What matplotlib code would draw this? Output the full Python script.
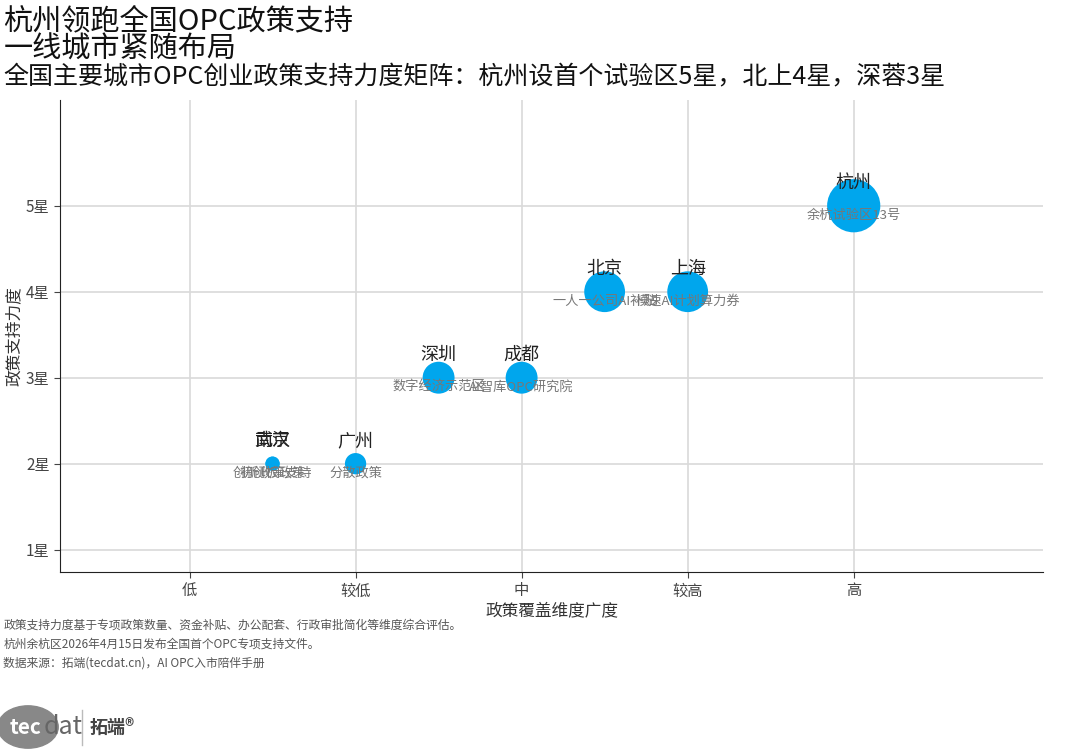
import matplotlib
matplotlib.use("Agg")
import matplotlib.pyplot as plt

plt.rcParams['font.family'] = ['Noto Sans CJK SC', 'DejaVu Sans']

cities = ["武汉", "南京", "广州", "深圳", "成都", "北京", "上海", "杭州"]
coverage = [0.5, 0.5, 1.0, 1.5, 2.0, 2.5, 3.0, 4.0]
stars = [2, 2, 2, 3, 3, 4, 4, 5]
marker_r = [8, 8, 12, 18, 18, 23, 23, 30]
notes = ["初创板政策", "创新政策支持", "分散政策", "数字经济示范区", "AI智库OPC研究院",
         "一人一公司AI补贴", "模速AI计划算力券", "余杭试验区13号"]
xticklabels = ["低", "较低", "中", "较高", "高"]
yticklabels = ["1星", "2星", "3星", "4星", "5星"]

fig = plt.figure(figsize=(10.8, 7.56), dpi=100)
ax = fig.add_axes([60/1080, 1-572/756, (1043-60)/1080, (572-100)/756])
sizes = [(r*72/100)**2*3.14159 for r in marker_r]
ax.scatter(coverage, stars, s=sizes, color="#00A6ED", zorder=3, edgecolors="none")
for x, y, c, n, r in zip(coverage, stars, cities, notes, marker_r):
    ax.annotate(c, (x, y), xytext=(0, 10), textcoords="offset points", ha="center", va="bottom",
                fontsize=13, color="#222222", zorder=4)
    ax.annotate(n, (x, y), xytext=(0, -7), textcoords="offset points", ha="center", va="center",
                fontsize=9.5, color="#777777", zorder=4)
ax.set_xlim(-0.78, 5.14)
ax.set_ylim(0.74, 6.23)
ax.set_xticks(range(5))
ax.set_xticklabels(xticklabels)
ax.set_yticks(range(1, 6))
ax.set_yticklabels(yticklabels)
ax.grid(True, color="#d9d9d9", lw=1.2, zorder=0)
ax.tick_params(labelsize=11, colors="#444444", length=4)
for s in ["top", "right"]:
    ax.spines[s].set_visible(False)
ax.spines["left"].set_color("#222222")
ax.spines["bottom"].set_color("#222222")
ax.set_xlabel("政策覆盖维度广度", fontsize=12, color="#333333", labelpad=2)
ax.set_ylabel("政策支持力度", fontsize=12, color="#333333", labelpad=2)

fig.text(0.003, 1-21/756, "杭州领跑全国OPC政策支持", fontsize=21, va="center", color="#111111")
fig.text(0.003, 1-50/756, "一线城市紧随布局", fontsize=21, va="center", color="#111111")
fig.text(0.003, 1-76/756, "全国主要城市OPC创业政策支持力度矩阵：杭州设首个试验区5星，北上4星，深蓉3星",
         fontsize=18, va="center", color="#111111")
cap = ["政策支持力度基于专项政策数量、资金补贴、办公配套、行政审批简化等维度综合评估。",
       "杭州余杭区2026年4月15日发布全国首个OPC专项支持文件。",
       "数据来源：拓端(tecdat.cn)，AI OPC入市陪伴手册"]
for i, t in enumerate(cap):
    fig.text(0.003, 1-(625+19*i)/756, t, fontsize=8.5, va="center", color="#555555")

fig.patches.append(plt.Circle((28/1080, 1-727/756), 0.028, transform=fig.transFigure, color="#888888"))
fig.text(10/1080, 1-727/756, "tec", fontsize=15, color="white", va="center", weight="bold")
fig.text(44/1080, 1-727/756, "dat", fontsize=18, color="#666666", va="center")
fig.lines.append(plt.Line2D([82/1080, 82/1080], [1-710/756, 1-745/756], transform=fig.transFigure, color="#bbbbbb", lw=1))
fig.text(90/1080, 1-727/756, "拓端®", fontsize=13, color="#444444", va="center", weight="bold")
fig.savefig("out.png", dpi=100, facecolor="white")
